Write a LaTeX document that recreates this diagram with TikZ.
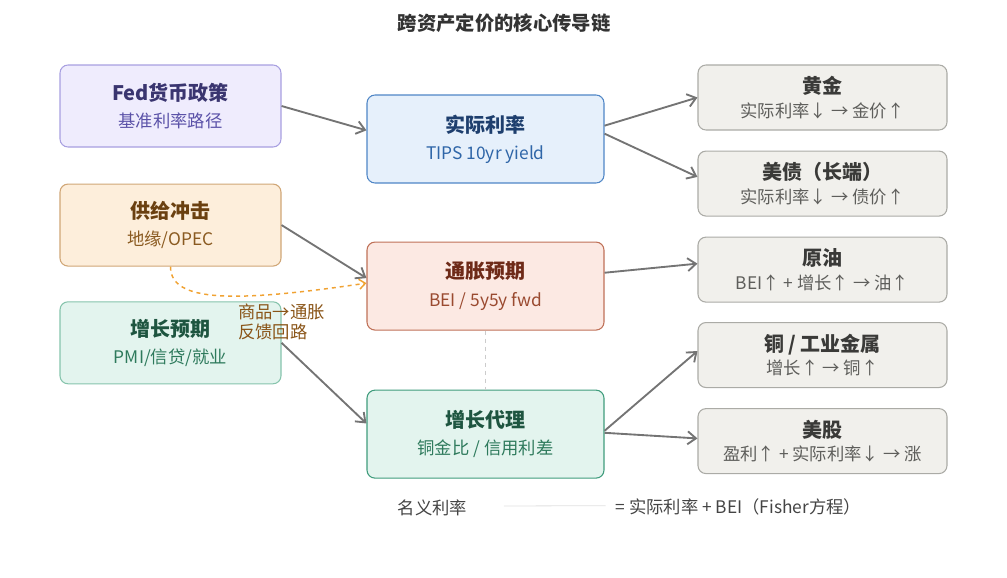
\documentclass[tikz,border=0pt]{standalone}
\usepackage{fontspec}
\setmainfont{Noto Sans CJK SC}
\usepackage{xcolor}
\usetikzlibrary{arrows.meta,positioning}

\definecolor{fedfill}{HTML}{EFECFD}
\definecolor{fedline}{HTML}{A79FE0}
\definecolor{fedtitle}{HTML}{3A3570}
\definecolor{fedsub}{HTML}{5B52A8}
\definecolor{supfill}{HTML}{FDEEDB}
\definecolor{supline}{HTML}{D0A676}
\definecolor{suptitle}{HTML}{6B4010}
\definecolor{supsub}{HTML}{8A5A20}
\definecolor{grofill}{HTML}{E3F4EE}
\definecolor{groline}{HTML}{86C4AC}
\definecolor{grotitle}{HTML}{1E5540}
\definecolor{grosub}{HTML}{2E7A5C}
\definecolor{realfill}{HTML}{E6F0FB}
\definecolor{realline}{HTML}{4F86C6}
\definecolor{realtitle}{HTML}{1E3F6E}
\definecolor{realsub}{HTML}{2F66A8}
\definecolor{inflfill}{HTML}{FCE9E3}
\definecolor{inflline}{HTML}{BF7158}
\definecolor{infltitle}{HTML}{6E2A18}
\definecolor{inflsub}{HTML}{9A4A30}
\definecolor{proxline}{HTML}{3F9C7C}
\definecolor{assetfill}{HTML}{F1F0EC}
\definecolor{assetline}{HTML}{ABABA6}
\definecolor{assettitle}{HTML}{3A3A38}
\definecolor{assetsub}{HTML}{5E5E5B}
\definecolor{arrowgray}{HTML}{747474}
\definecolor{feedorange}{HTML}{F0A232}
\definecolor{feedbrown}{HTML}{8A5518}
\definecolor{notegray}{HTML}{444444}

\newcommand\cardtitle{\fontsize{15}{18}\selectfont\bfseries}

\begin{document}
\begin{tikzpicture}[x=0.75pt, y=-0.75pt, font=\fontsize{13}{15.5}\selectfont,
  card/.style={draw, rounded corners=6pt, align=center, line width=0.8pt, inner sep=3pt},
  leftbox/.style={card, minimum width=165.75pt, minimum height=61.5pt},
  midbox/.style={card, minimum width=177.75pt, minimum height=66pt},
  assetbox/.style={card, fill=assetfill, draw=assetline, minimum width=186.75pt, minimum height=48.75pt},
  arrow/.style={draw=arrowgray, line width=1.4pt, -{Straight Barb[length=2.2mm,width=3.4mm]}},
  feedback/.style={draw=feedorange, line width=1.1pt, dashed, -{Straight Barb[length=1.6mm,width=2.6mm]}}]
\useasboundingbox (0,0) rectangle (1007,578);
\node[text=black!80, font=\fontsize{14.5}{17}\selectfont\bfseries] (title) at (504,23) {跨资产定价的核心传导链};
% left column: drivers
\node[leftbox, fill=fedfill, draw=fedline] (fed) at (170.5,106) {{\cardtitle\color{fedtitle}Fed货币政策}\\[5pt]{\color{fedsub}基准利率路径}};
\node[leftbox, fill=supfill, draw=supline, below=27pt of fed] (supply) {{\cardtitle\color{suptitle}供给冲击}\\[5pt]{\color{supsub}地缘/OPEC}};
\node[leftbox, fill=grofill, draw=groline, below=26pt of supply] (growth) {{\cardtitle\color{grotitle}增长预期}\\[5pt]{\color{grosub}PMI/信贷/就业}};
% middle column: channels
\node[midbox, fill=realfill, draw=realline] (real) at (485.5,139) {{\cardtitle\color{realtitle}实际利率}\\[5pt]{\color{realsub}TIPS 10yr yield}};
\node[midbox, fill=inflfill, draw=inflline, below=43.5pt of real] (infl) {{\cardtitle\color{infltitle}通胀预期}\\[5pt]{\color{inflsub}BEI / 5y5y fwd}};
\node[midbox, fill=grofill, draw=proxline, below=44.25pt of infl] (proxy) {{\cardtitle\color{grotitle}增长代理}\\[5pt]{\color{grosub}铜金比 / 信用利差}};
% right column: assets
\node[assetbox] (gold) at (822.5,97.5) {{\cardtitle\color{assettitle}黄金}\\[2pt]{\color{assetsub}实际利率↓ → 金价↑}};
\node[assetbox, below=15pt of gold] (bond) {{\cardtitle\color{assettitle}美债（长端）}\\[2pt]{\color{assetsub}实际利率↓ → 债价↑}};
\node[assetbox, below=15pt of bond] (oil) {{\cardtitle\color{assettitle}原油}\\[2pt]{\color{assetsub}BEI↑ + 增长↑ → 油↑}};
\node[assetbox, below=14.5pt of oil] (copper) {{\cardtitle\color{assettitle}铜 / 工业金属}\\[2pt]{\color{assetsub}增长↑ → 铜↑}};
\node[assetbox, below=15pt of copper] (stock) {{\cardtitle\color{assettitle}美股}\\[2pt]{\color{assetsub}盈利↑ + 实际利率↓ → 涨}};
% transmission arrows
\draw[arrow] (fed.east) -- ([yshift=6.5pt]real.west);
\draw[arrow] (supply.east) -- ([yshift=6pt]infl.west);
\draw[arrow] (growth.east) -- ([yshift=8pt]proxy.west);
\draw[arrow] ([yshift=10pt]real.east) -- (gold.west);
\draw[arrow] ([yshift=4pt]real.east) -- ([yshift=5pt]bond.west);
\draw[arrow] ([yshift=10pt]infl.east) -- ([yshift=4.5pt]oil.west);
\draw[arrow] ([yshift=2.5pt]proxy.east) -- ([yshift=3pt]copper.west);
\draw[arrow] ([yshift=1pt]proxy.east) -- ([yshift=2pt]stock.west);
\draw[black!20, dashed, line width=0.6pt] (infl.south) -- (proxy.north);
% commodity feedback loop
\draw[feedback] (supply.south) .. controls (170.5,302) and (232,303) .. ([yshift=2.2pt]infl.west);
\node[anchor=west, align=left, text=feedbrown, inner sep=0pt] (feedlabel) at (238,322) {商品→通胀\\反馈回路};
% Fisher note
\node[anchor=west, text=notegray] (nominal) at (393,508) {名义利率};
\node[anchor=west, text=notegray] (fisher) at (611,507) {= 实际利率 + BEI（Fisher方程）};
\draw[black!12, line width=0.6pt] ([xshift=24pt,yshift=1.5pt]nominal.east) -- ([xshift=-4pt,yshift=1pt]fisher.west);
\end{tikzpicture}
\end{document}
